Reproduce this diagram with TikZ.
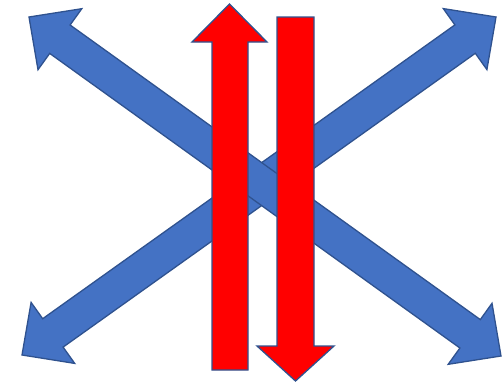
\documentclass[tikz,border=0pt]{standalone}
\begin{document}
\begin{tikzpicture}[x=1pt,y=-1pt,
  bluearrow/.style={fill={rgb,255:red,68;green,114;blue,196}, draw={rgb,255:red,47;green,82;blue,143}, line width=1.3pt, line join=miter},
  redarrow/.style={fill={rgb,255:red,255;green,0;blue,0}, draw={rgb,255:red,47;green,82;blue,143}, line width=1.3pt, line join=miter}]
\useasboundingbox (0,0) rectangle (502,383);
% SW-NE double arrow
\draw[bluearrow] (22,355) -- (31.1,302.4) -- (42.7,318.7) -- (454.9,24.9) -- (443.3,8.6) -- (496,17) -- (486.9,69.6) -- (475.3,53.3) -- (63.1,347.1) -- (74.7,363.4) -- cycle;
% NW-SE double arrow
\draw[bluearrow] (29,17) -- (81.8,8.7) -- (70.1,25.0) -- (480.3,319.6) -- (492.0,303.3) -- (501,356) -- (448.2,364.3) -- (459.9,348.0) -- (49.7,53.4) -- (38.0,69.7) -- cycle;
% red up arrow
\draw[redarrow] (229.5,4) -- (267,42) -- (248,42) -- (248,370) -- (212,370) -- (212,42) -- (192,42) -- cycle;
% red down arrow
\draw[redarrow] (277,17) -- (314,17) -- (314,346) -- (334,346) -- (295.5,381) -- (257,346) -- (277,346) -- cycle;
\end{tikzpicture}
\end{document}
